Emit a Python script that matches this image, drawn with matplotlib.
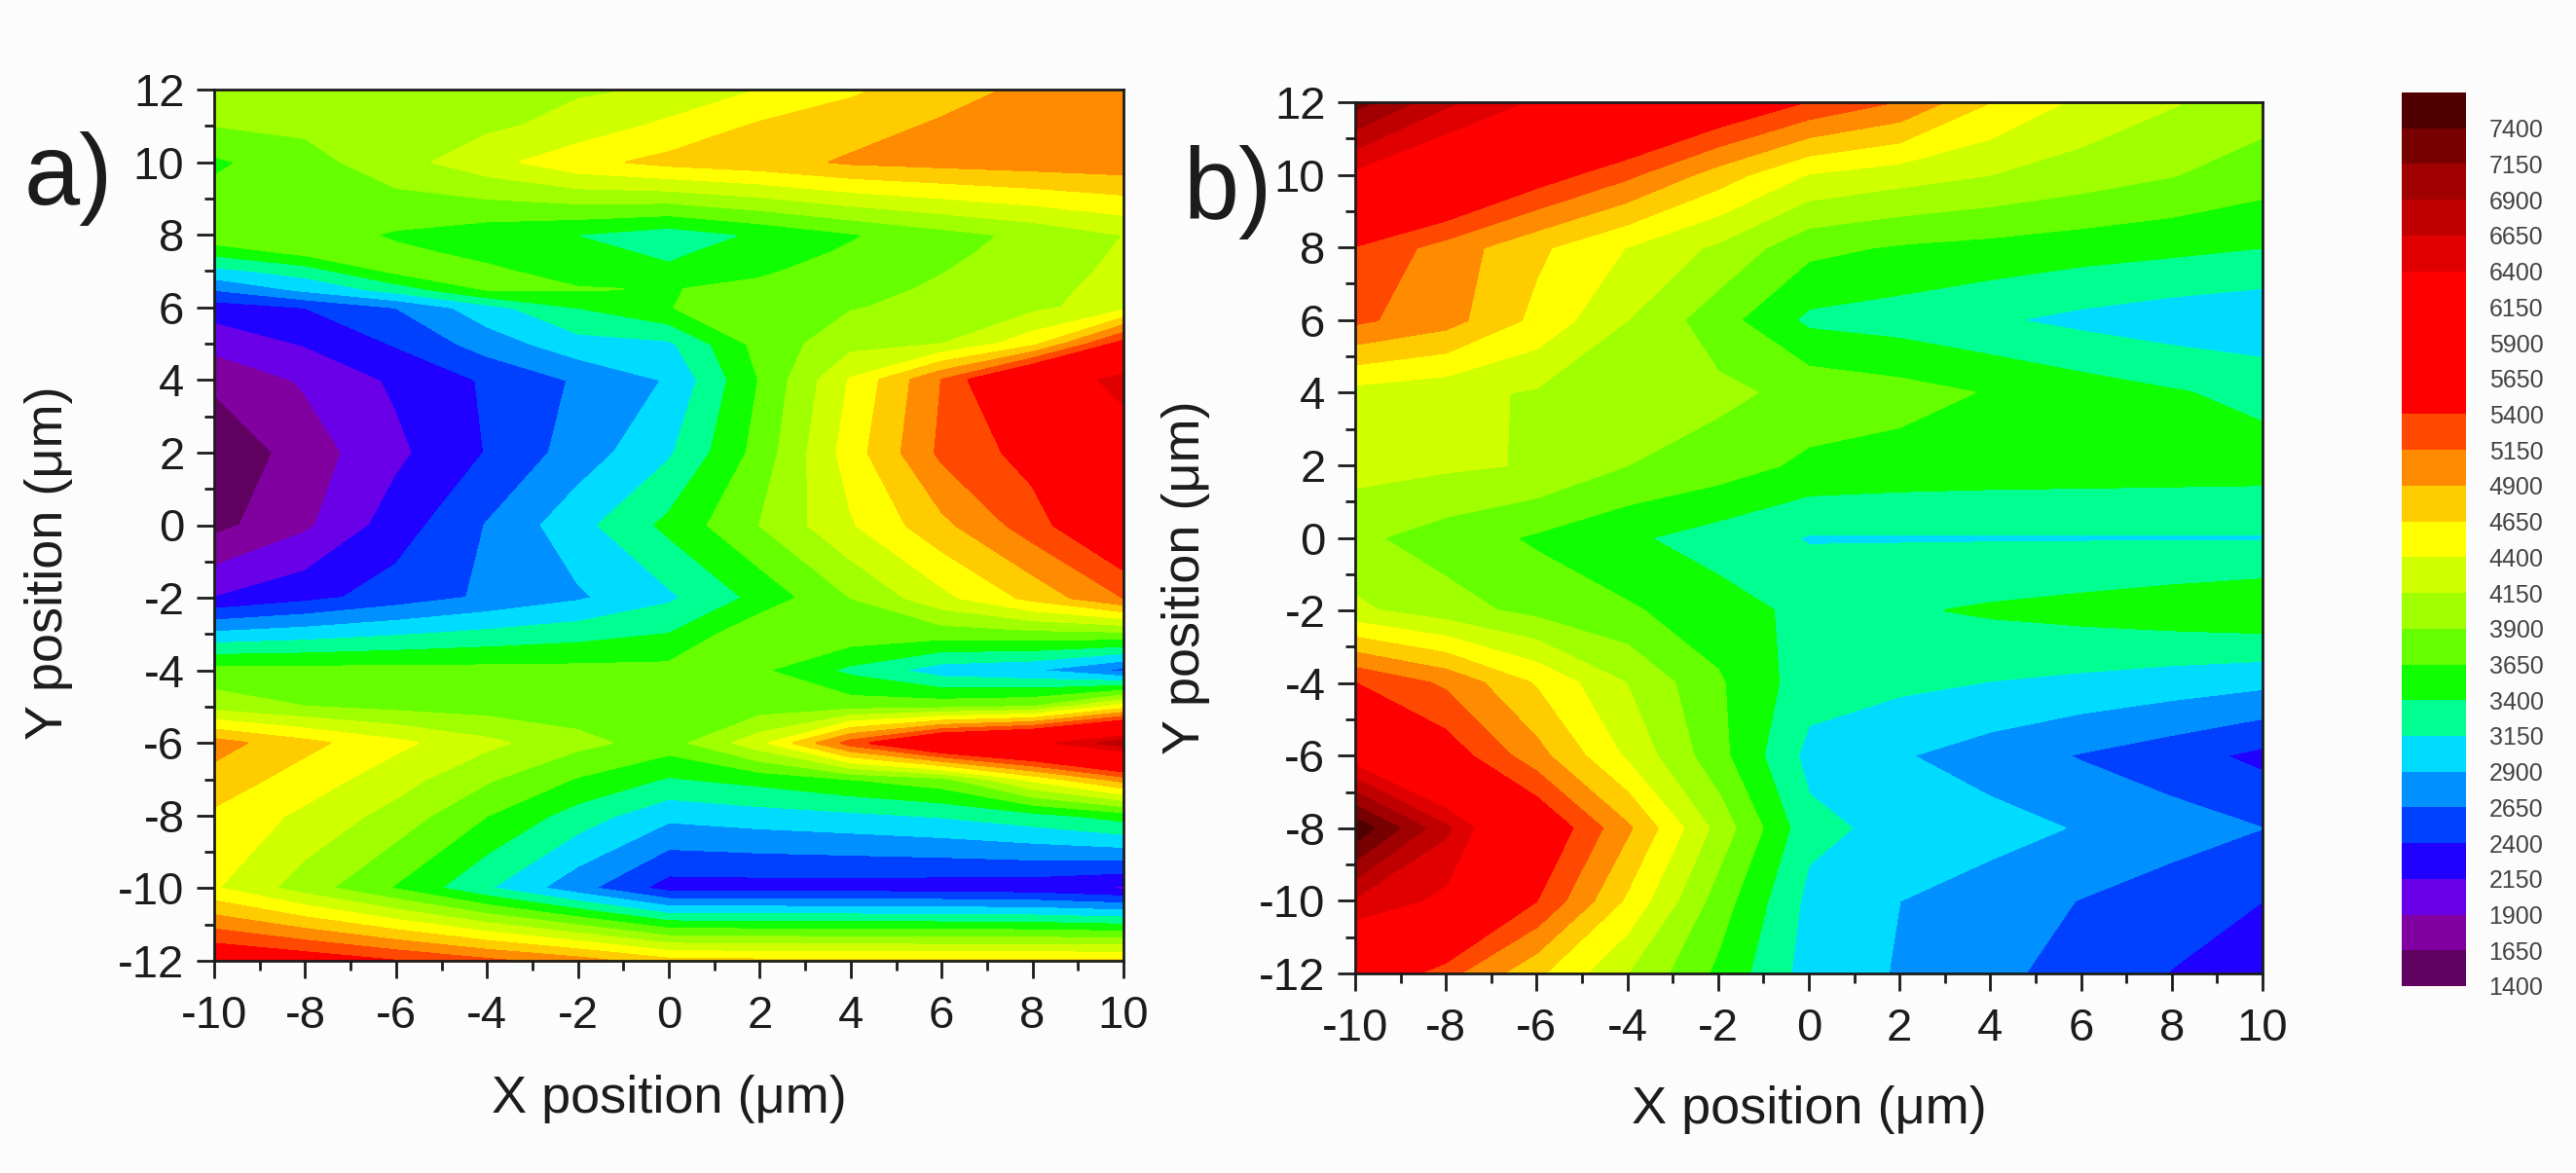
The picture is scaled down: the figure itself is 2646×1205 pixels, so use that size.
import matplotlib
matplotlib.use("Agg")
import matplotlib.pyplot as plt
import numpy as np

plt.rcParams['font.family'] = ['Liberation Sans', 'DejaVu Sans']
plt.rcParams['axes.unicode_minus'] = False

x_pos = [-10, -8, -6, -4, -2, 0, 2, 4, 6, 8, 10]

# panel a needs a few extra rows where the bands bunch up
y_a = [12, 11, 10, 8, 7.5, 7, 6.5, 6, 5, 4, 2, 0, -2, -3, -4, -5, -6, -7, -8, -10, -12]
map_a = [
    [4080, 4080, 4090, 4100, 4120, 4170, 4400, 4600, 4800, 4950, 5050],
    [3900, 3950, 4050, 4100, 4230, 4460, 4680, 4800, 4930, 4990, 5050],
    [3600, 3800, 4050, 4300, 4570, 4720, 4800, 4930, 4980, 5020, 5050],
    [3850, 3750, 3620, 3500, 3390, 3250, 3430, 3620, 3800, 3960, 4150],
    [3450, 3700, 3690, 3600, 3480, 3350, 3525, 3685, 3845, 3990, 4180],
    [3060, 3250, 3700, 3680, 3570, 3440, 3615, 3750, 3890, 4020, 4210],
    [2660, 2950, 3250, 3660, 3660, 3640, 3700, 3815, 3935, 4050, 4255],
    [2260, 2400, 2650, 3050, 3400, 3640, 3800, 3880, 3980, 4080, 4300],
    [1980, 2165, 2420, 2760, 3050, 3100, 3740, 4060, 4140, 4550, 5500],
    [1700, 1930, 2190, 2430, 2680, 2920, 3660, 4420, 5150, 6000, 6550],
    [1430, 1770, 2090, 2410, 2760, 3110, 3740, 4520, 5200, 5500, 6100],
    [1570, 1850, 2270, 2660, 3060, 3460, 3900, 4370, 4830, 5280, 5800],
    [2150, 2320, 2510, 2690, 2860, 3100, 3470, 3900, 4320, 4720, 5150],
    [2940, 3020, 3115, 3205, 3290, 3400, 3860, 3800, 3750, 3790, 3800],
    [3730, 3720, 3720, 3720, 3720, 3720, 3680, 3330, 3000, 2900, 2550],
    [4040, 3900, 3820, 3780, 3770, 3740, 3760, 3780, 3800, 3880, 4500],
    [5000, 4720, 4460, 4210, 3970, 3780, 4300, 5250, 5950, 6250, 6800],
    [4800, 4530, 4255, 3930, 3625, 3370, 3480, 3640, 3800, 4450, 5000],
    [4600, 4340, 4050, 3650, 3280, 2960, 3030, 3090, 3170, 3300, 3500],
    [4420, 4020, 3620, 3170, 2730, 2280, 2280, 2270, 2250, 2220, 2100],
    [5700, 5580, 5400, 5200, 5000, 4720, 4690, 4680, 4680, 4680, 4680],
]

# panel b
y_b = [12, 10, 8, 6, 4, 2, 0, -2, -4, -6, -8, -10, -12]
map_b = [
    [7250, 6700, 6350, 6080, 5720, 5380, 5130, 4650, 4340, 4170, 4020],
    [6320, 6000, 5550, 5200, 4780, 4380, 4260, 4150, 4030, 3910, 3770],
    [5380, 5040, 4700, 4390, 4100, 3720, 3620, 3570, 3510, 3460, 3400],
    [5200, 5000, 4580, 4150, 3750, 3340, 3280, 3180, 3080, 3000, 2950],
    [4300, 4220, 4120, 4050, 3960, 3820, 3740, 3630, 3520, 3420, 3330],
    [4240, 4190, 4130, 3900, 3780, 3590, 3550, 3530, 3520, 3510, 3500],
    [3950, 3780, 3610, 3440, 3280, 3130, 3130, 3130, 3130, 3130, 3130],
    [4200, 4000, 3820, 3680, 3510, 3330, 3370, 3430, 3480, 3540, 3600],
    [5400, 5100, 4620, 4140, 3680, 3260, 3200, 3140, 3090, 3020, 2950],
    [6200, 5560, 4990, 4350, 3730, 3070, 2920, 2780, 2630, 2500, 2330],
    [7580, 6700, 5700, 4940, 4060, 3220, 3070, 2990, 2880, 2760, 2650],
    [6600, 6320, 5400, 4600, 3780, 3080, 2900, 2780, 2640, 2520, 2400],
    [5800, 5230, 4700, 4150, 3590, 3040, 2880, 2700, 2570, 2390, 2190],
]

# contour levels and the colour of each band
levels = list(range(1400, 7900, 250))
band_colors = [
    '#600060', '#8000a0', '#6a00e8', '#2000ff', '#0040ff', '#0090ff',
    '#00dcff', '#00ff90', '#10ff00', '#66ff00', '#a0ff00', '#d0ff00',
    '#ffff00', '#ffcc00', '#ff8c00', '#ff4800', '#ff0000', '#ff0000',
    '#ff0000', '#ff0000', '#e00000', '#c00000', '#a00000', '#780000',
    '#500000',
]

W, H = 2646, 1205
TEXT = '#1c1c1c'


def px_axes(left, top, right, bottom):
    # pixel box of the image -> figure fractions
    return [left / W, 1 - bottom / H, (right - left) / W, (bottom - top) / H]


def panel(fig, box, y_pos, values, letter, letter_xy, xlabel_y, ylabel_xy):
    left, top, right, bottom = box
    ax = fig.add_axes(px_axes(*box))
    cs = ax.contourf(x_pos, y_pos, np.array(values), levels=levels, colors=band_colors)
    cs.set_edgecolor('face')
    ax.set_xlim(-10, 10)
    ax.set_ylim(-12, 12)
    ax.set_xticks(range(-10, 11, 2))
    ax.set_yticks(range(-12, 13, 2))
    ax.set_xticks(range(-9, 10, 2), minor=True)
    ax.set_yticks(range(-11, 12, 2), minor=True)
    ax.tick_params(which='major', direction='out', length=13, width=2, labelsize=34, colors=TEXT)
    ax.tick_params(which='minor', direction='out', length=7, width=2, colors=TEXT)
    ax.tick_params(axis='x', which='major', pad=12)
    ax.tick_params(axis='y', which='major', pad=9)
    for s in ax.spines.values():
        s.set_linewidth(2)
        s.set_color(TEXT)
    ax.set_xlabel('X position (μm)', fontsize=39, color=TEXT, va='center')
    ax.xaxis.set_label_coords(0.5, (bottom - xlabel_y) / (bottom - top))
    ax.set_ylabel('Y position (μm)', fontsize=39, color=TEXT, va='center')
    ax.yaxis.set_label_coords((ylabel_xy[0] - left) / (right - left),
                              (bottom - ylabel_xy[1]) / (bottom - top))
    fig.text(letter_xy[0] / W, 1 - letter_xy[1] / H, letter, fontsize=74, color=TEXT)
    return cs


fig = plt.figure(figsize=(W / 100, H / 100), dpi=100, facecolor='#fcfcfc')

cs = panel(fig, (220, 92, 1154, 987), y_a, map_a, 'a)', (25, 210), 1129, (50, 578))
panel(fig, (1392, 105, 2324, 1000), y_b, map_b, 'b)', (1215, 224), 1140, (1218, 593))

# colour scale on the right
cax = fig.add_axes(px_axes(2467, 95, 2533, 1013))
cb = fig.colorbar(cs, cax=cax, ticks=levels[:-1])
cb.ax.tick_params(length=0, labelsize=18, pad=17, labelcolor='#444444')
cb.outline.set_visible(False)

fig.savefig('out.png', dpi=100, facecolor=fig.get_facecolor())
